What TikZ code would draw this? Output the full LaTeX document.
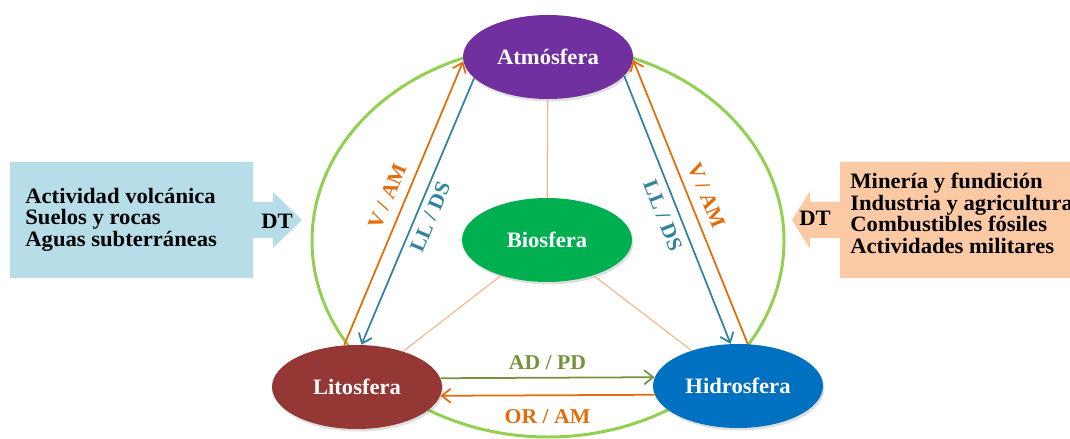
\documentclass[tikz,border=0pt]{standalone}
\usepackage{fontspec}
\setmainfont{Liberation Serif}[FakeStretch=1.03]
\usepackage{tikz}
\usetikzlibrary{arrows.meta, shapes.geometric, shadows}

\definecolor{atmoscolor}{HTML}{7030A0}
\definecolor{biocolor}{HTML}{00B050}
\definecolor{litocolor}{HTML}{953735}
\definecolor{hidrocolor}{HTML}{0070C0}
\definecolor{ringgreen}{HTML}{92D050}
\definecolor{peach}{HTML}{F4B183}
\definecolor{orangeflow}{HTML}{E46C0A}
\definecolor{blueflow}{HTML}{31849B}
\definecolor{greenflow}{HTML}{76923C}
\definecolor{leftbox}{HTML}{B7DDE8}
\definecolor{rightbox}{HTML}{FBC9A4}

\begin{document}
\begin{tikzpicture}[
      >={Straight Barb[length=5pt,width=8pt]},
      sphere/.style={ellipse,minimum width=3.4cm,minimum height=1.68cm,inner sep=0pt,
        text=white,font=\fontsize{12.5}{13}\selectfont\bfseries,
        drop shadow={shadow xshift=0.03cm,shadow yshift=-0.05cm,opacity=0.25}},
      ring/.style={line width=1.7pt,ringgreen},
      thin link/.style={line width=0.6pt,peach},
      orange link/.style={->,line width=1pt,orangeflow},
      blue link/.style={->,line width=1pt,blueflow},
      green link/.style={->,line width=1pt,greenflow},
      flow label/.style={font=\fontsize{12}{13}\selectfont\bfseries},
      box text/.style={align=left,inner sep=0pt,font=\fontsize{12.5}{12.2}\selectfont\bfseries}
      ]
      \useasboundingbox (0,0) rectangle (21.4,8.78);
      % callouts
      \fill [leftbox] (0.2,5.54) -- (5.06,5.54) -- (5.06,4.74) -- (5.46,4.74) -- (5.46,4.94)
        -- (6.04,4.38) -- (5.46,3.82) -- (5.46,4.02) -- (5.06,4.02) -- (5.06,3.22) -- (0.2,3.22) -- cycle;
      \fill [rightbox] (22,5.54) -- (16.8,5.54) -- (16.8,4.74) -- (16.2,4.74) -- (16.2,4.96)
        -- (15.84,4.38) -- (16.2,3.80) -- (16.2,4.02) -- (16.8,4.02) -- (16.8,3.22) -- (22,3.22) -- cycle;
      \node [box text,anchor=west] (natural) at (0.5,4.39) {Actividad volcánica\\Suelos y rocas\\Aguas subterráneas};
      \node [box text] (dt left) at (5.54,4.36) {DT};
      \node [box text] (dt right) at (16.3,4.42) {DT};
      \node [box text,anchor=west] (human) at (17.0,4.51) {Minería y fundición\\Industria y agricultura\\Combustibles fósiles\\Actividades militares};
      % ring
      \draw [ring] (10.96,3.96) ellipse [x radius=4.72,y radius=3.92];
      % nodes
      \node [sphere,fill=atmoscolor] (atmos) at (10.96,7.64) {Atmósfera};
      \node [sphere,fill=biocolor] (bio) at (10.94,3.98) {Biosfera};
      \node [sphere,fill=litocolor] (lito) at (7.14,1.04) {Litosfera};
      \node [sphere,fill=hidrocolor] (hidro) at (14.76,1.06) {Hidrosfera};
      % biosfera links
      \draw [thin link] (atmos) -- (bio);
      \draw [thin link] (bio) -- (lito);
      \draw [thin link] (bio) -- (hidro);
      % litosfera - atmosfera
      \draw [orange link] (lito.107) -- (atmos.183) node [midway,sloped,above=2pt,flow label] {V / AM};
      \draw [blue link] (atmos.196) -- (lito.84) node [midway,sloped,below=0pt,flow label] {LL / DS};
      % hidrosfera - atmosfera
      \draw [orange link] (hidro.77) -- (atmos.-2) node [midway,sloped,above=2pt,flow label] {V / AM};
      \draw [blue link] (atmos.-14) -- (hidro.100) node [midway,sloped,below=1pt,flow label] {LL / DS};
      % litosfera - hidrosfera
      \draw [green link] (lito.6) -- (hidro.174) node [midway,above=1pt,flow label] {AD / PD};
      \draw [orange link] (hidro.186) -- (lito.-6) node [midway,below=4pt,flow label] {OR / AM};
    \end{tikzpicture}
\end{document}
